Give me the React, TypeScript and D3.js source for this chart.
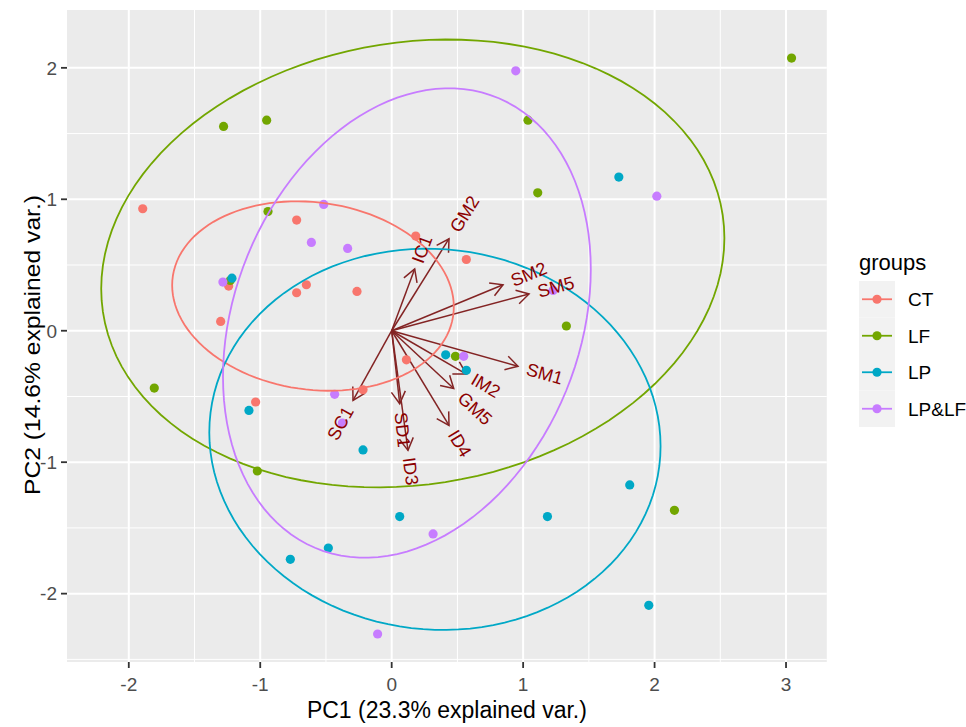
import React from "react";
import * as d3 from "d3";

// ---- data ----
const groups = ["CT", "LF", "LP", "LP&LF"];
const groupColors = ["#F8766D", "#72A600", "#00A8C6", "#C77CFF"];

const ctX = [-1.894, -0.723, 0.183, 0.568, -1.24, -0.723, -0.649, -0.264, -1.301, -1.035, -0.218, 0.112];
const ctY = [0.928, 0.842, 0.72, 0.542, 0.34, 0.289, 0.35, 0.299, 0.071, -0.542, -0.449, -0.221];
const lfX = [-1.279, -0.951, -0.941, -1.228, 1.037, 3.042, 1.111, 1.329, -1.806, -1.022, 0.485, 2.151];
const lfY = [1.554, 1.602, 0.907, 0.383, 1.602, 2.074, 1.049, 0.036, -0.436, -1.067, -0.195, -1.366];
const lpX = [-1.215, 1.728, -1.086, -0.218, 0.411, 0.568, 0.061, -0.482, -0.771, 1.811, 1.185, 1.956];
const lpY = [0.4, 1.169, -0.606, -0.907, -0.183, -0.301, -1.414, -1.653, -1.739, -1.173, -1.414, -2.089];
const lplfX = [-0.517, -0.611, -0.335, -1.284, 0.944, 2.017, 1.228, -0.434, -0.375, 0.548, 0.315, -0.107];
const lplfY = [0.961, 0.672, 0.626, 0.37, 1.977, 1.024, 0.307, -0.484, -0.702, -0.195, -1.546, -2.307];

const varNames = ["IC1", "GM2", "SM2", "SM5", "SM1", "IM2", "GM5", "ID4", "SD1", "ID3", "SC1"];
const varX = [0.175, 0.436, 0.847, 1.045, 0.961, 0.568, 0.472, 0.436, 0.061, 0.124, -0.294];
const varY = [0.47, 0.7, 0.35, 0.28, -0.27, -0.33, -0.44, -0.72, -0.555, -0.91, -0.53];

const xDomain = [-2.47, 3.31];
const yDomain = [-2.52, 2.44];
const xTicks = [-2, -1, 0, 1, 2, 3];
const yTicks = [-2, -1, 0, 1, 2];
const xMinor = [-1.5, -0.5, 0.5, 1.5, 2.5];
const yMinor = [-2.5, -1.5, -0.5, 0.5, 1.5];

const xTitle = "PC1 (23.3% explained var.)";
const yTitle = "PC2 (14.6% explained var.)";
const legendTitle = "groups";
const ellipseProb = 0.68;

// ---- layout ----
const W = 966;
const H = 727;
const panelLeft = 67;
const panelTop = 10;
const unitPx = 131.45;
const FONT = "'Liberation Sans', Arial, sans-serif";
const ARROW_COLOR = "#832424";
const LABEL_COLOR = "#8B0000";

function measure(text: string, size: number): number {
  if (typeof document === "undefined") return text.length * size * 0.6;
  const c = document.createElement("canvas").getContext("2d");
  if (!c) return text.length * size * 0.6;
  c.font = `${size}px 'Liberation Sans', Arial, sans-serif`;
  return c.measureText(text).width;
}

function ellipsePts(xs: number[], ys: number[]): [number, number][] {
  const n = xs.length;
  const mx = d3.mean(xs) as number;
  const my = d3.mean(ys) as number;
  let sxx = 0, syy = 0, sxy = 0;
  for (let i = 0; i < n; i++) {
    sxx += (xs[i] - mx) ** 2;
    syy += (ys[i] - my) ** 2;
    sxy += (xs[i] - mx) * (ys[i] - my);
  }
  sxx /= n - 1; syy /= n - 1; sxy /= n - 1;
  const l11 = Math.sqrt(sxx);
  const l21 = sxy / l11;
  const l22 = Math.sqrt(Math.max(syy - l21 * l21, 0));
  const ed = Math.sqrt(-2 * Math.log(1 - ellipseProb));
  const out: [number, number][] = [];
  const N = 120;
  for (let k = 0; k <= N; k++) {
    const t = -Math.PI + (2 * Math.PI * k) / N;
    const c = Math.cos(t), s = Math.sin(t);
    out.push([mx + ed * l11 * c, my + ed * (l21 * c + l22 * s)]);
  }
  return out;
}

export default function App() {
  const panelW = (xDomain[1] - xDomain[0]) * unitPx;
  const panelH = (yDomain[1] - yDomain[0]) * unitPx;
  const x = d3.scaleLinear().domain(xDomain).range([panelLeft, panelLeft + panelW]);
  const y = d3.scaleLinear().domain(yDomain).range([panelTop + panelH, panelTop]);
  const panelBottom = panelTop + panelH;
  const panelRight = panelLeft + panelW;

  const groupData = [
    { xs: ctX, ys: ctY },
    { xs: lfX, ys: lfY },
    { xs: lpX, ys: lpY },
    { xs: lplfX, ys: lplfY },
  ];
  const line = d3.line<[number, number]>().x((d) => x(d[0])).y((d) => y(d[1]));

  const arrowLen = 14;
  const arrowAng = (30 * Math.PI) / 180;

  const legendX = 859;
  const legendKeyTop = 281;
  const keyH = 36.5;
  const keyW = 36;

  return (
    <svg width={W} height={H} style={{ position: "absolute", left: 0, top: 0, background: "#fff" }} fontFamily={FONT}>
      <rect x={0} y={0} width={W} height={H} fill="#fff" />
      {/* panel */}
      <rect x={panelLeft} y={panelTop} width={panelW} height={panelH} fill="#EBEBEB" />
      {xMinor.filter((v) => v > xDomain[0] && v < xDomain[1]).map((v) => (
        <line key={"xm" + v} x1={x(v)} x2={x(v)} y1={panelTop} y2={panelBottom} stroke="#fff" strokeWidth={1} />
      ))}
      {yMinor.filter((v) => v > yDomain[0] && v < yDomain[1]).map((v) => (
        <line key={"ym" + v} y1={y(v)} y2={y(v)} x1={panelLeft} x2={panelRight} stroke="#fff" strokeWidth={1} />
      ))}
      {xTicks.map((v) => (
        <line key={"xg" + v} x1={x(v)} x2={x(v)} y1={panelTop} y2={panelBottom} stroke="#fff" strokeWidth={2} />
      ))}
      {yTicks.map((v) => (
        <line key={"yg" + v} y1={y(v)} y2={y(v)} x1={panelLeft} x2={panelRight} stroke="#fff" strokeWidth={2} />
      ))}

      {/* arrows */}
      {varNames.map((nm, i) => {
        const x0 = x(0), y0 = y(0), x1 = x(varX[i]), y1 = y(varY[i]);
        const a = Math.atan2(y1 - y0, x1 - x0);
        const h1 = [x1 - arrowLen * Math.cos(a - arrowAng), y1 - arrowLen * Math.sin(a - arrowAng)];
        const h2 = [x1 - arrowLen * Math.cos(a + arrowAng), y1 - arrowLen * Math.sin(a + arrowAng)];
        return (
          <g key={"ar" + nm} stroke={ARROW_COLOR} strokeWidth={1.5} fill="none">
            <line x1={x0} y1={y0} x2={x1} y2={y1} />
            <polyline points={`${h1[0]},${h1[1]} ${x1},${y1} ${h2[0]},${h2[1]}`} />
          </g>
        );
      })}

      {/* points */}
      {groupData.map((g, gi) =>
        g.xs.map((vx, i) => (
          <circle key={`p${gi}-${i}`} cx={x(vx)} cy={y(g.ys[i])} r={4.6} fill={groupColors[gi]} />
        ))
      )}

      {/* ellipses */}
      {groupData.map((g, gi) => (
        <path key={"el" + gi} d={line(ellipsePts(g.xs, g.ys)) || ""} fill="none" stroke={groupColors[gi]} strokeWidth={1.8} />
      ))}

      {/* variable labels */}
      {varNames.map((nm, i) => {
        const fs = 18;
        const w = measure(nm, fs);
        const ang = (180 / Math.PI) * Math.atan(varY[i] / varX[i]);
        const pos = varX[i] >= 0;
        return (
          <text
            key={"lb" + nm}
            transform={`translate(${x(varX[i])},${y(varY[i])}) rotate(${-ang})`}
            x={pos ? 0.25 * w : -0.25 * w}
            y={0}
            dy="0.35em"
            textAnchor={pos ? "start" : "end"}
            fontSize={fs}
            fill={LABEL_COLOR}
          >
            {nm}
          </text>
        );
      })}

      {/* axes */}
      {xTicks.map((v) => (
        <g key={"xt" + v}>
          <line x1={x(v)} x2={x(v)} y1={panelBottom} y2={panelBottom + 6} stroke="#333" strokeWidth={1.8} />
          <text x={x(v)} y={panelBottom + 29} textAnchor="middle" fontSize={19} fill="#4D4D4D">
            {v}
          </text>
        </g>
      ))}
      {yTicks.map((v) => (
        <g key={"yt" + v}>
          <line x1={panelLeft - 6} x2={panelLeft} y1={y(v)} y2={y(v)} stroke="#333" strokeWidth={1.8} />
          <text x={panelLeft - 10} y={y(v)} dy="0.36em" textAnchor="end" fontSize={19} fill="#4D4D4D">
            {v}
          </text>
        </g>
      ))}
      <text x={(panelLeft + panelRight) / 2} y={718} textAnchor="middle" fontSize={23} fill="#000">
        {xTitle}
      </text>
      <text
        transform={`translate(40,345) rotate(-90)`}
        textAnchor="middle"
        fontSize={22}
        textLength={300}
        lengthAdjust="spacingAndGlyphs"
        fill="#000"
      >
        {yTitle}
      </text>

      {/* legend */}
      <text x={legendX} y={270} fontSize={22} fill="#000">
        {legendTitle}
      </text>
      {groups.map((g, gi) => {
        const cy = legendKeyTop + keyH * gi + keyH / 2;
        return (
          <g key={"lg" + g}>
            <rect x={legendX} y={legendKeyTop + keyH * gi} width={keyW} height={keyH} fill="#F2F2F2" />
            <line x1={legendX + 3} x2={legendX + keyW - 3} y1={cy} y2={cy} stroke={groupColors[gi]} strokeWidth={1.8} />
            <circle cx={legendX + keyW / 2} cy={cy} r={4.6} fill={groupColors[gi]} />
            <text x={908} y={cy} dy="0.36em" fontSize={19} fill="#000">
              {g}
            </text>
          </g>
        );
      })}
    </svg>
  );
}
